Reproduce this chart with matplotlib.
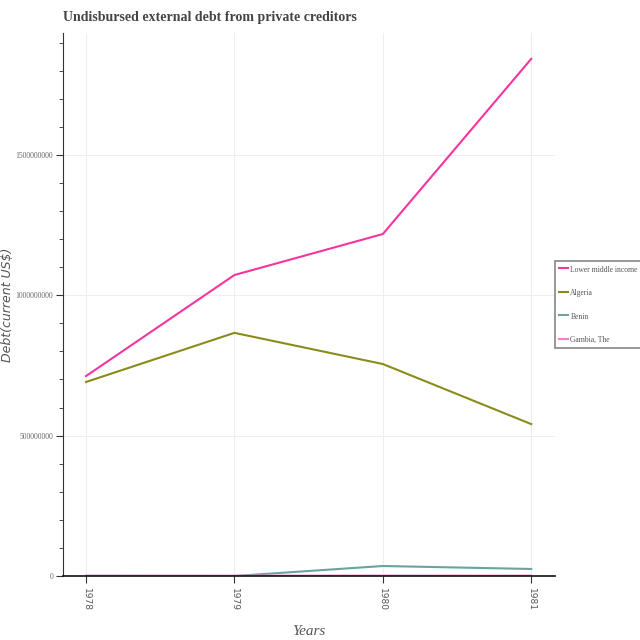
import matplotlib
matplotlib.use("Agg")
import matplotlib.pyplot as plt
from matplotlib.ticker import MultipleLocator

years = [1978, 1979, 1980, 1981]
lower_middle_income = [7.12e8, 1.072e9, 1.218e9, 1.842e9]
algeria = [6.91e8, 8.66e8, 7.55e8, 5.41e8]
benin = [5.0e5, 0.0, 3.56e7, 2.5e7]
gambia = [1.0e6, 1.2e6, 1.5e6, 1.3e6]

series = [
    ("Lower middle income", lower_middle_income, "#f5359f"),
    ("Algeria", algeria, "#8b8b1c"),
    ("Benin", benin, "#6aa3a0"),
    ("Gambia, The", gambia, "#ef7fdc"),
]

serif = "Liberation Serif"

fig = plt.figure(figsize=(6.4, 6.4), dpi=100)
ax = fig.add_axes([63 / 640, 64 / 640, 492 / 640, 543 / 640])

for name, vals, color in series:
    ax.plot(years, vals, color=color, lw=1.5, label=name)

ax.set_xlim(1978 - 0.155, 1981 + 0.16)
ax.set_ylim(0, 1.934e9)
ax.set_xticks(years)
ax.set_xticklabels([str(y) for y in years], rotation=-90, family="DejaVu Sans",
                   fontsize=6.5, color="#555555")
ax.yaxis.set_major_locator(MultipleLocator(5e8))
ax.yaxis.set_minor_locator(MultipleLocator(1e8))
ax.ticklabel_format(axis="y", style="plain")
for lab in ax.get_yticklabels():
    lab.set_family(serif)
    lab.set_fontsize(5.5)
    lab.set_color("#666666")
ax.tick_params(axis="y", which="major", length=5, color="#333333", pad=2)
ax.tick_params(axis="y", which="minor", length=3, color="#333333")
ax.tick_params(axis="x", length=5, color="#333333")

ax.grid(True, color="#eeeeee", lw=0.8)
ax.set_axisbelow(True)
for s in ["top", "right"]:
    ax.spines[s].set_visible(False)
ax.spines["left"].set_color("#333333")
ax.spines["bottom"].set_color("#111111")
ax.spines["bottom"].set_linewidth(1.2)

ax.set_xlabel("Years", family=serif, style="italic", fontsize=11,
              color="#555555", labelpad=10)
fig.text(8 / 640, 1 - 305 / 640, "Debt(current US\\$)", family="DejaVu Sans",
         style="italic", fontsize=9, color="#555555", rotation=90,
         ha="center", va="center")

fig.text(63 / 640, 1 - 18 / 640, "Undisbursed external debt from private creditors",
         family=serif, weight="bold", fontsize=10, color="#444444",
         va="center", ha="left")

leg = ax.legend(loc="center left", bbox_to_anchor=(1.0, 0.5), frameon=True,
                fancybox=False, prop={"family": serif, "size": 5.5},
                handlelength=1.2, handleheight=1.4, labelspacing=1.9,
                borderpad=0.5, borderaxespad=0.0, handletextpad=0.3)
leg.get_frame().set_edgecolor("#666666")
leg.get_frame().set_linewidth(1.2)
for t in leg.get_texts():
    t.set_color("#555555")

fig.savefig("out.png", dpi=100)
